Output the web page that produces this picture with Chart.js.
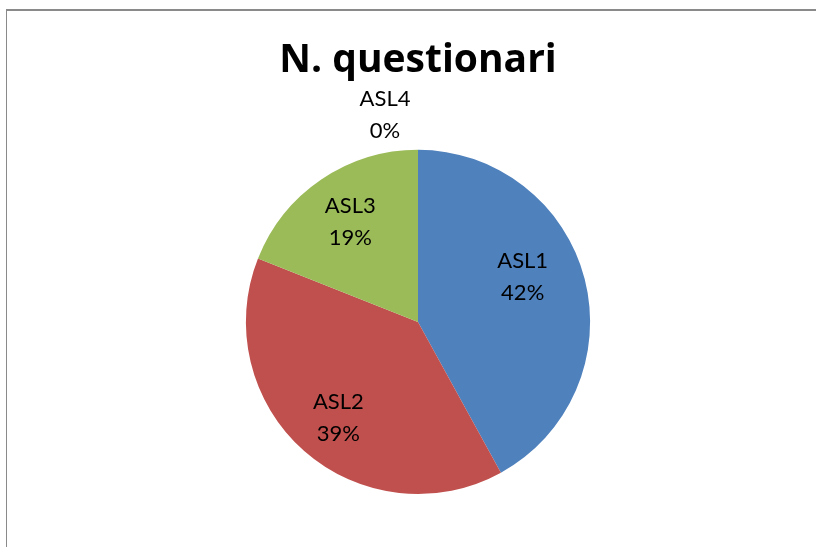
<!DOCTYPE html>
<html>
<head>
<meta charset="utf-8">
<script src="https://cdn.jsdelivr.net/npm/chart.js@4/dist/chart.umd.min.js"></script>
<style>
	body { margin: 0; background: #fff; }
	#wrap { position: relative; width: 816px; height: 547px; overflow: hidden; }
	#frame { position: absolute; left: 6px; top: 9px; width: 900px; height: 600px;
		border-top: 2px solid #8a8a8a; border-left: 1px solid #8a8a8a; pointer-events: none; }
	canvas { position: absolute; left: 0; top: 0; }
</style>
</head>
<body>
<div id="wrap">
	<canvas id="pieChart" width="816" height="547"></canvas>
	<div id="frame"></div>
</div>
<script>
// dati del grafico
const categories = ['ASL1', 'ASL2', 'ASL3', 'ASL4'];
const values = [42, 39, 19, 0];
const colors = ['#4f81bd', '#c0504d', '#9bbb59', '#8064a2'];
const chartTitle = 'N. questionari';

// etichette "categoria + percentuale" (posizionamento tipo Excel "adatta")
const sliceLabels = {
	id: 'sliceLabels',
	afterDatasetsDraw(chart) {
		const ctx = chart.ctx;
		const meta = chart.getDatasetMeta(0);
		const total = values.reduce((a, b) => a + b, 0);
		const nudge = [[-12, -15], [0, 6], [0, 0], [-33, 0]];
		ctx.save();
		ctx.font = '22px Lato, sans-serif';
		ctx.fillStyle = '#000';
		ctx.textAlign = 'center';
		ctx.textBaseline = 'middle';
		meta.data.forEach(function(arc, i) {
			const p = arc.getProps(['x', 'y', 'startAngle', 'endAngle', 'outerRadius'], true);
			const mid = (p.startAngle + p.endAngle) / 2;
			const dist = values[i] === 0 ? p.outerRadius * 1.2 : p.outerRadius * 0.7;
			const x = p.x + Math.cos(mid) * dist + nudge[i][0];
			const y = p.y + Math.sin(mid) * dist + nudge[i][1];
			const pct = Math.round(values[i] / total * 100) + '%';
			ctx.fillText(categories[i], x, y - 16);
			ctx.fillText(pct, x, y + 16);
		});
		ctx.restore();
	}
};

new Chart(document.getElementById('pieChart'), {
	type: 'pie',
	data: {
		labels: categories,
		datasets: [{
			data: values,
			backgroundColor: colors,
			borderWidth: 0
		}]
	},
	options: {
		responsive: false,
		animation: false,
		layout: { padding: { top: 0, bottom: 53, left: 20, right: 0 } },
		plugins: {
			legend: { display: false },
			tooltip: { enabled: false },
			title: {
				display: true,
				text: chartTitle,
				color: '#000',
				font: { family: '"Open Sans", sans-serif', size: 39, weight: 'bold', lineHeight: 1.2 },
				padding: { top: 37, bottom: 66 }
			}
		}
	},
	plugins: [sliceLabels]
});
</script>
</body>
</html>
